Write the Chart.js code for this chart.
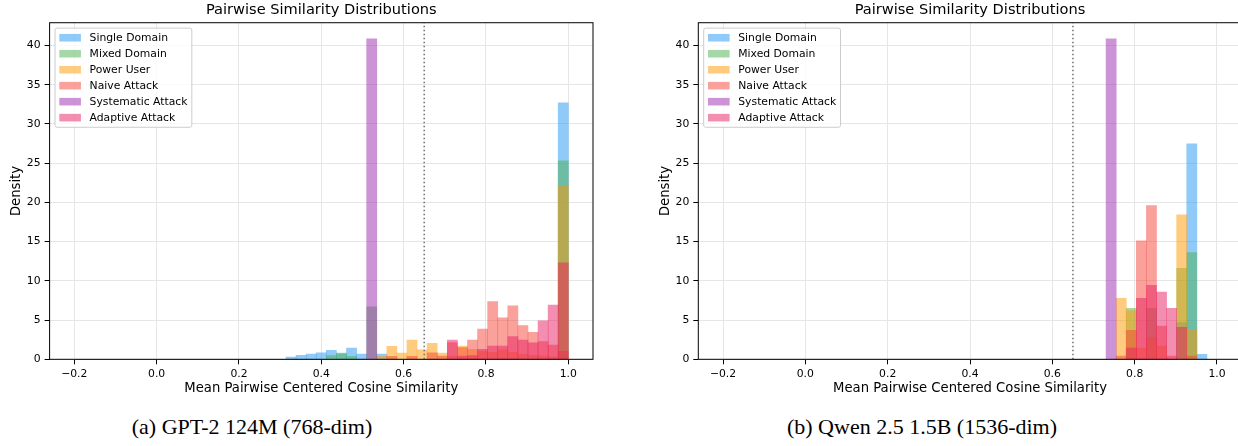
<!DOCTYPE html>
<html>
<head>
<meta charset="utf-8">
<script src="https://cdn.jsdelivr.net/npm/chart.js@4.4.1/dist/chart.umd.min.js"></script>
<style>
  html, body { margin: 0; padding: 0; background: #fff; overflow: hidden; width: 1238px; height: 446px; }
  .panel { position: absolute; top: 0; }
  .caption { position: absolute; top: 414px; font-family: "Liberation Serif", serif; font-size: 22px; color: #000; white-space: nowrap; transform: translateX(-50%); }
</style>
</head>
<body>
<div class="panel" style="left:0"><canvas id="gpt" width="620" height="400"></canvas></div>
<div class="panel" style="left:650px"><canvas id="qwen" width="620" height="400"></canvas></div>
<div class="caption" style="left:252px">(a) GPT-2 124M (768-dim)</div>
<div class="caption" style="left:922px">(b) Qwen 2.5 1.5B (1536-dim)</div>
<script>
const seriesNames = ['Single Domain', 'Mixed Domain', 'Power User', 'Naive Attack', 'Systematic Attack', 'Adaptive Attack'];
const seriesColors = ['#2196F3', '#4CAF50', '#FF9800', '#F44336', '#9C27B0', '#E91E63'];

// histogram bins: 49 equal bins from -0.2 to 1.0
const binLow = -0.2;
const binHigh = 1.0;
const binCount = 49;

const xLimit = [-0.26, 1.06];
const yLimit = [0, 42.9];
const xTicks = [-0.2, 0, 0.2, 0.4, 0.6, 0.8, 1.0];
const xTickLabels = ['\u22120.2', '0.0', '0.2', '0.4', '0.6', '0.8', '1.0'];
const yTicks = [0, 5, 10, 15, 20, 25, 30, 35, 40];
const yTickLabels = ['0', '5', '10', '15', '20', '25', '30', '35', '40'];
const threshold = 0.65;

const chartTitle = 'Pairwise Similarity Distributions';
const xTitle = 'Mean Pairwise Centered Cosine Similarity';
const yTitle = 'Density';

// GPT-2 124M densities per bin
const gptSingle = [
  0, 0, 0, 0, 0, 0, 0,
  0, 0, 0, 0, 0, 0, 0,
  0, 0, 0, 0, 0, 0, 0,
  0.29, 0.5, 0.66, 0.83, 1.14, 0.7, 1.44,
  0.68, 0, 0.68, 0, 0, 0, 0,
  0, 0, 0, 0, 0, 0, 0,
  0, 0, 0, 0, 0, 0, 32.7
];
const gptMixed = [
  0, 0, 0, 0, 0, 0, 0,
  0, 0, 0, 0, 0, 0, 0,
  0, 0, 0, 0, 0, 0, 0,
  0, 0, 0, 0, 0.46, 0.8, 0.38,
  0, 6.7, 0, 0, 0, 0, 0,
  0, 0, 0, 0, 0, 0, 0,
  0, 0, 0, 0, 0, 0, 25.3
];
const gptPower = [
  0, 0, 0, 0, 0, 0, 0,
  0, 0, 0, 0, 0, 0, 0,
  0, 0, 0, 0, 0, 0, 0,
  0, 0, 0, 0, 0, 0, 0,
  0, 0, 0.38, 1.65, 0.8, 2.46, 1.2,
  2.04, 0.78, 0.4, 1.7, 1.27, 1.0, 0.9,
  1.2, 0.9, 0.63, 0.5, 0.4, 0.33, 22.1
];
const gptNaive = [
  0, 0, 0, 0, 0, 0, 0,
  0, 0, 0, 0, 0, 0, 0,
  0, 0, 0, 0, 0, 0, 0,
  0, 0, 0, 0, 0, 0, 0,
  0, 0, 0, 0.38, 0, 0.38, 0,
  0.84, 0.42, 2.12, 1.5, 2.46, 3.86, 7.35,
  5.3, 6.8, 4.3, 3.45, 2.25, 1.8, 1.0
];
const gptSystematic = [
  0, 0, 0, 0, 0, 0, 0,
  0, 0, 0, 0, 0, 0, 0,
  0, 0, 0, 0, 0, 0, 0,
  0, 0, 0, 0, 0, 0, 0,
  0, 40.85, 0, 0, 0, 0, 0,
  0, 0, 0, 0, 0, 0, 0,
  0, 0, 0, 0, 0, 0, 0
];
const gptAdaptive = [
  0, 0, 0, 0, 0, 0, 0,
  0, 0, 0, 0, 0, 0, 0,
  0, 0, 0, 0, 0, 0, 0,
  0, 0, 0, 0, 0, 0, 0,
  0, 0, 0, 0, 0, 0, 0,
  0, 0, 2.46, 0.4, 0.46, 1.27, 1.7,
  1.7, 2.9, 2.46, 2.1, 4.9, 6.9, 12.3
];

// Qwen 2.5 1.5B densities per bin
const qwenSingle = [
  0, 0, 0, 0, 0, 0, 0,
  0, 0, 0, 0, 0, 0, 0,
  0, 0, 0, 0, 0, 0, 0,
  0, 0, 0, 0, 0, 0, 0,
  0, 0, 0, 0, 0, 0, 0,
  0, 0, 0, 0, 0, 0, 0,
  0, 0, 0, 4.68, 27.45, 0.63, 0
];
const qwenMixed = [
  0, 0, 0, 0, 0, 0, 0,
  0, 0, 0, 0, 0, 0, 0,
  0, 0, 0, 0, 0, 0, 0,
  0, 0, 0, 0, 0, 0, 0,
  0, 0, 0, 0, 0, 0, 0,
  0, 0, 0, 0, 0, 6.5, 0,
  6.5, 0, 0, 11.6, 13.6, 0, 0
];
const qwenPower = [
  0, 0, 0, 0, 0, 0, 0,
  0, 0, 0, 0, 0, 0, 0,
  0, 0, 0, 0, 0, 0, 0,
  0, 0, 0, 0, 0, 0, 0,
  0, 0, 0, 0, 0, 0, 0,
  0, 0, 0, 0, 7.78, 6.2, 1.44,
  2.8, 1.7, 0, 18.4, 3.74, 0, 0
];
const qwenNaive = [
  0, 0, 0, 0, 0, 0, 0,
  0, 0, 0, 0, 0, 0, 0,
  0, 0, 0, 0, 0, 0, 0,
  0, 0, 0, 0, 0, 0, 0,
  0, 0, 0, 0, 0, 0, 0,
  0, 0, 0, 0, 0.42, 3.7, 15.1,
  19.6, 4.25, 0.42, 0, 0.42, 0, 0
];
const qwenSystematic = [
  0, 0, 0, 0, 0, 0, 0,
  0, 0, 0, 0, 0, 0, 0,
  0, 0, 0, 0, 0, 0, 0,
  0, 0, 0, 0, 0, 0, 0,
  0, 0, 0, 0, 0, 0, 0,
  0, 0, 0, 40.85, 0, 0, 0,
  0, 0, 0, 0, 0, 0, 0
];
const qwenAdaptive = [
  0, 0, 0, 0, 0, 0, 0,
  0, 0, 0, 0, 0, 0, 0,
  0, 0, 0, 0, 0, 0, 0,
  0, 0, 0, 0, 0, 0, 0,
  0, 0, 0, 0, 0, 0, 0,
  0, 0, 0, 0, 0, 1.44, 7.78,
  9.43, 8.58, 6.5, 4.08, 0, 0, 0
];

Chart.defaults.font.family = '"DejaVu Sans", sans-serif';
Chart.defaults.font.size = 10.8;
Chart.defaults.color = '#000';

const fontSize = 10.8;
const labelSize = 13.2;
const titleSize = 14.6;
const gridColor = '#e6e6e6';

function fade(hex, alpha) {
  const n = parseInt(hex.slice(1), 16);
  return `rgba(${(n >> 16) & 255}, ${(n >> 8) & 255}, ${n & 255}, ${alpha})`;
}

// black box around the plot area, like matplotlib spines
const frame = {
  id: 'frame',
  afterDatasetsDraw(chart) {
    const { ctx, chartArea: a } = chart;
    ctx.save();
    ctx.strokeStyle = '#000';
    ctx.lineWidth = 1;
    ctx.strokeRect(a.left, a.top, a.right - a.left, a.bottom - a.top);
    ctx.restore();
  }
};

// legend in the upper left corner of the plot area
const cornerLegend = {
  id: 'cornerLegend',
  afterDraw(chart) {
    const { ctx, chartArea } = chart;
    const items = chart.data.datasets.filter(d => d.type === 'bar');
    const fs = fontSize;
    ctx.save();
    ctx.font = `${fs}px "DejaVu Sans"`;
    const textW = Math.max(...items.map(d => ctx.measureText(d.label).width));
    const pad = fs * 0.4, rowH = fs * 0.98, gap = fs * 0.5;
    const handleW = fs * 2, handleH = fs * 0.7, textPad = fs * 0.8;
    const x0 = chartArea.left + fs * 0.5;
    const y0 = chartArea.top + fs * 0.5;
    const w = pad + handleW + textPad + textW + pad;
    const h = pad * 2 + items.length * rowH + (items.length - 1) * gap;

    ctx.beginPath();
    ctx.roundRect(x0, y0, w, h, 2);
    ctx.fillStyle = 'rgba(255,255,255,0.8)';
    ctx.fill();
    ctx.strokeStyle = '#cccccc';
    ctx.lineWidth = 1;
    ctx.stroke();

    ctx.textBaseline = 'middle';
    items.forEach((d, i) => {
      const cy = y0 + pad + i * (rowH + gap) + rowH / 2;
      ctx.fillStyle = d.backgroundColor;
      ctx.fillRect(x0 + pad, cy - handleH / 2, handleW, handleH);
      ctx.fillStyle = '#000';
      ctx.fillText(d.label, x0 + pad + handleW + textPad, cy + 0.5);
    });
    ctx.restore();
  }
};

function makeChart(canvasId, series, padLeft, padRight) {
  const binWidth = (binHigh - binLow) / binCount;
  const centers = series[0].map((_, i) => binLow + (i + 0.5) * binWidth);

  const datasets = series.map((vals, s) => ({
    type: 'bar',
    label: seriesNames[s],
    data: vals.map((v, i) => ({ x: centers[i], y: v })),
    backgroundColor: fade(seriesColors[s], 0.5),
    borderWidth: 0,
    grouped: false,
    barPercentage: 1,
    categoryPercentage: 1,
    order: series.length - s
  }));

  datasets.push({
    type: 'line',
    label: 'threshold',
    data: [{ x: threshold, y: yLimit[0] }, { x: threshold, y: yLimit[1] }],
    borderColor: '#777777',
    borderWidth: 1.6,
    borderDash: [1.6, 2.4],
    pointRadius: 0,
    order: 0
  });

  return new Chart(document.getElementById(canvasId), {
    type: 'bar',
    data: { datasets },
    options: {
      responsive: false,
      animation: false,
      devicePixelRatio: 1,
      layout: { padding: { left: padLeft, right: padRight, top: 0, bottom: 0 } },
      plugins: {
        legend: { display: false },
        tooltip: { enabled: false },
        title: {
          display: true,
          text: chartTitle,
          fullSize: false,
          font: { size: titleSize, weight: 'normal' },
          padding: { top: 1.7, bottom: 3.5 }
        }
      },
      scales: {
        x: {
          type: 'linear',
          min: xLimit[0],
          max: xLimit[1],
          offset: false,
          afterBuildTicks: scale => { scale.ticks = xTicks.map(v => ({ value: v })); },
          ticks: {
            callback: (v, i) => xTickLabels[i],
            padding: 3.2,
            maxRotation: 0,
            autoSkip: false
          },
          grid: { offset: false, color: gridColor, tickColor: '#000', tickLength: 5, lineWidth: 1 },
          border: { display: false },
          title: { display: true, text: xTitle, font: { size: labelSize }, padding: { top: 0, bottom: 3.1 } },
          afterFit: scale => { scale.height = 40.7; }
        },
        y: {
          type: 'linear',
          min: yLimit[0],
          max: yLimit[1],
          afterBuildTicks: scale => { scale.ticks = yTicks.map(v => ({ value: v })); },
          ticks: { callback: (v, i) => yTickLabels[i], padding: 4, autoSkip: false },
          grid: { color: gridColor, tickColor: '#000', tickLength: 5, lineWidth: 1 },
          border: { display: false },
          title: { display: true, text: yTitle, font: { size: labelSize }, padding: { top: 7.5, bottom: 0 } },
          afterFit: scale => { scale.width = 48; }
        }
      }
    },
    plugins: [frame, cornerLegend]
  });
}

makeChart('gpt', [gptSingle, gptMixed, gptPower, gptNaive, gptSystematic, gptAdaptive], 1.6, 27);
makeChart('qwen', [qwenSingle, qwenMixed, qwenPower, qwenNaive, qwenSystematic, qwenAdaptive], 0.3, 28.3);
</script>
</body>
</html>
